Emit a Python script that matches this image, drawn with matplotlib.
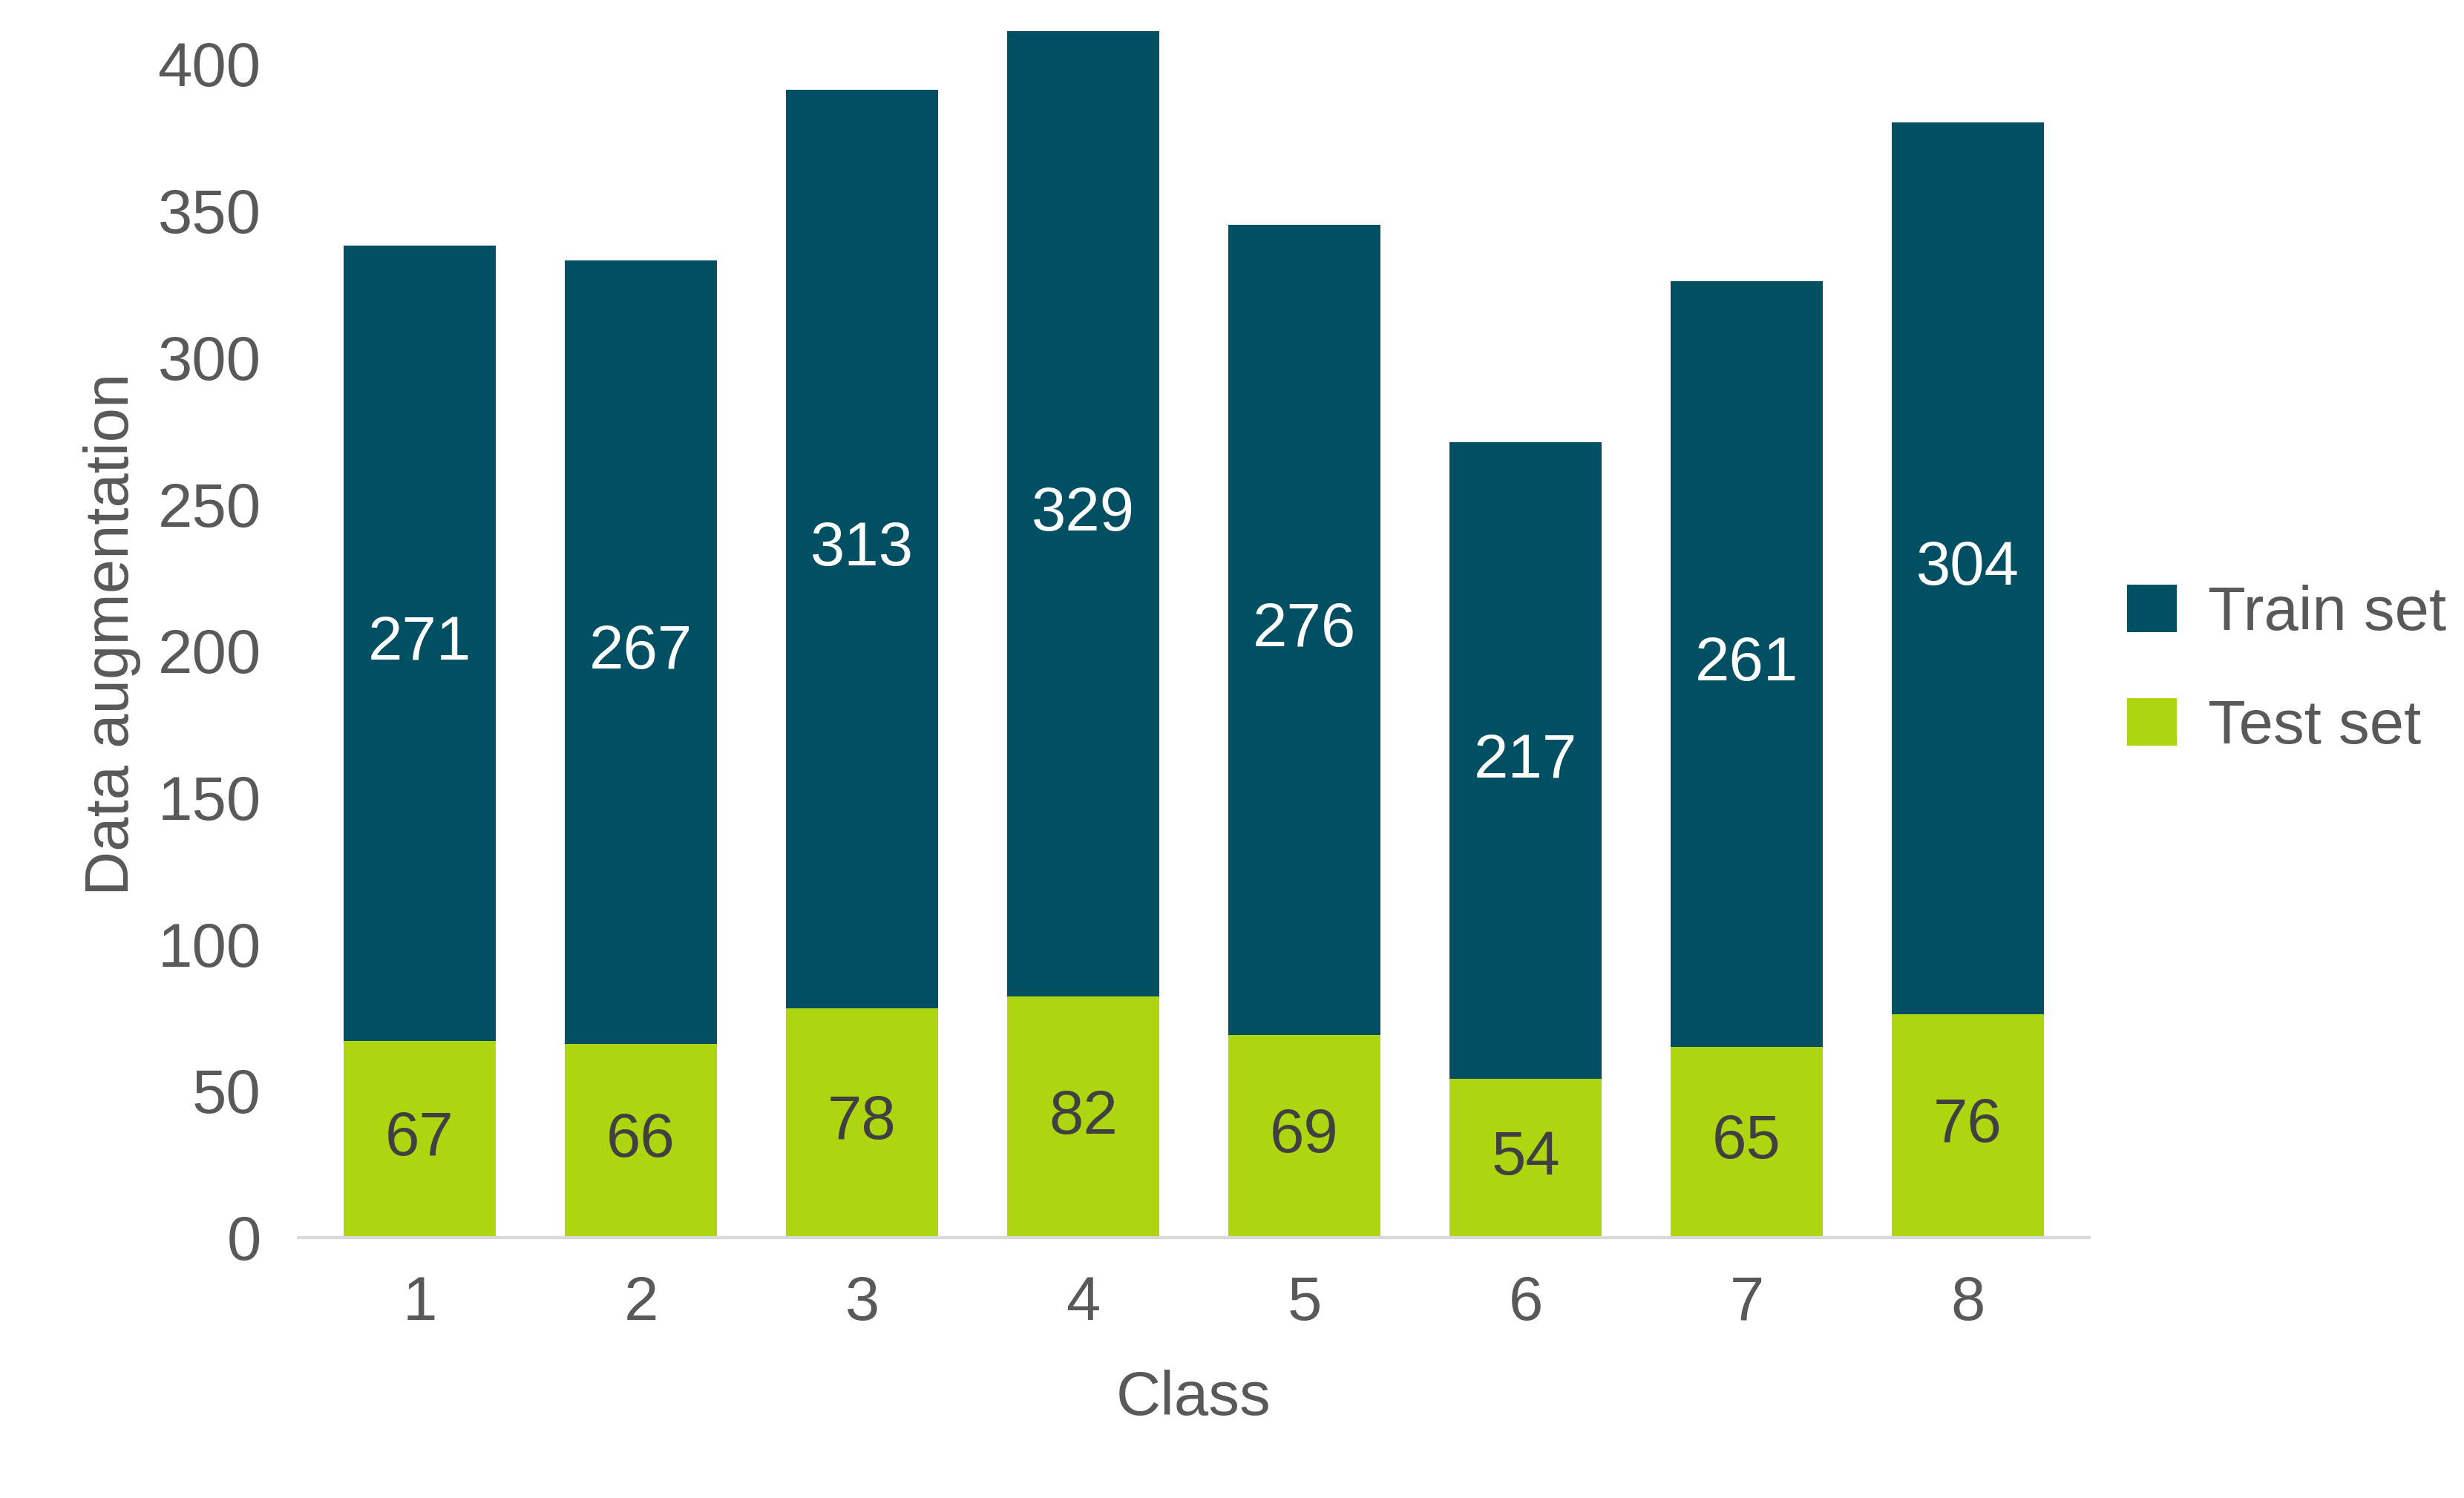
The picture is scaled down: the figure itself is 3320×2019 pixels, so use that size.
import matplotlib.pyplot as plt
import numpy as np

classes = ['1', '2', '3', '4', '5', '6', '7', '8']
test_set = [67, 66, 78, 82, 69, 54, 65, 76]
train_set = [271, 267, 313, 329, 276, 217, 261, 304]

train_color = '#004F63'
test_color = '#ADD510'
text_color = '#595959'

plt.rcParams['font.family'] = ['Liberation Sans', 'DejaVu Sans']

fig = plt.figure(figsize=(16.6, 10.095), dpi=200)
ax = fig.add_axes([0.121, 0.174, 0.727, 0.805])

x = np.arange(len(classes))
w = 0.69
b1 = ax.bar(x, test_set, w, color=test_color, label='Test set')
b2 = ax.bar(x, train_set, w, bottom=test_set, color=train_color, label='Train set')

for xi, t, tr in zip(x, test_set, train_set):
    ax.text(xi, t / 2, str(t), ha='center', va='center', fontsize=30, color='#404040')
    ax.text(xi, t + tr / 2, str(tr), ha='center', va='center', fontsize=30, color='white')

ax.set_xlim(-0.55, 7.55)
ax.set_ylim(0, 411)
ax.set_yticks(range(0, 401, 50))
ax.set_xticks(x)
ax.set_xticklabels(classes)
ax.tick_params(length=0, labelsize=30, colors=text_color, pad=18)
for s in ['top', 'right', 'left']:
    ax.spines[s].set_visible(False)
ax.spines['bottom'].set_color('#D9D9D9')
ax.spines['bottom'].set_linewidth(1.5)

ax.set_xlabel('Class', fontsize=30, color=text_color, labelpad=18)
ax.set_ylabel('Data augmentation', fontsize=30, color=text_color, labelpad=8)

ax.legend(handles=[b2, b1], loc='center left', bbox_to_anchor=(0.99, 0.47),
          frameon=False, fontsize=30, labelcolor=text_color,
          handlelength=0.8, handleheight=0.8, labelspacing=0.9, handletextpad=0.5)

fig.savefig('out.png', dpi=200)
